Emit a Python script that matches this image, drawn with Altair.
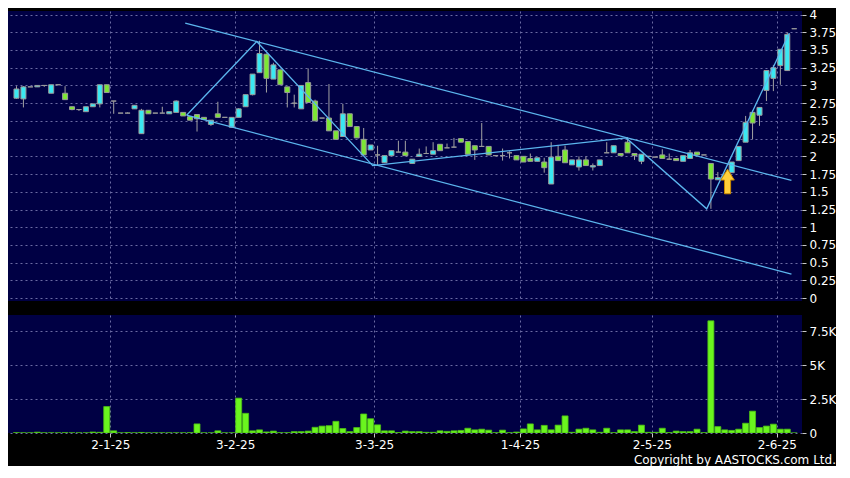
import altair as alt
import pandas as pd

# ---- candle data (one slot per trading day with trades) ----
opens = [2.82, 2.81, 2.98, 2.98, 3.00, 2.89, 3.01, 2.89, 2.70, 2.66,
         2.63, 2.70, 2.74, 3.01, 2.78, 2.61, 2.61, 2.67, 2.32, 2.65,
         2.61, 2.61, 2.60, 2.62, 2.62, 2.56, 2.59, 2.55, 2.45, 2.60,
         2.55, 2.41, 2.55, 2.70, 2.87, 3.18, 3.44, 3.09, 3.22, 2.98,
         2.75, 2.67, 3.04, 2.78, 2.54, 2.54, 2.36, 2.28, 2.60, 2.42,
         2.24, 2.09, 2.02, 1.91, 2.01, 2.06, 2.06, 1.90, 2.00, 2.04,
         2.03, 2.17, 2.12, 2.13, 2.25, 2.21, 2.15, 2.14, 2.14, 2.01,
         2.01, 2.05, 2.01, 2.00, 1.97, 1.93, 1.92, 1.61, 2.00, 2.09,
         1.88, 1.85, 1.95, 1.85, 1.87, 2.05, 2.05, 2.04, 2.20, 2.04,
         1.93, 2.00, 1.99, 2.02, 1.96, 1.97, 1.93, 1.97, 2.06, 2.02,
         1.90, 1.67, 1.70, 1.77, 1.94, 2.20, 2.62, 2.58, 2.93, 3.10,
         3.28, 3.21, 3.80]
highs = [2.99, 2.99, 2.98, 3.00, 3.00, 3.01, 3.01, 2.99, 2.70, 2.66,
         2.70, 2.74, 3.01, 3.01, 2.78, 2.61, 2.62, 2.72, 2.67, 2.65,
         2.61, 2.70, 2.63, 2.79, 2.62, 2.56, 2.59, 2.55, 2.51, 2.77,
         2.55, 2.55, 2.68, 2.87, 3.16, 3.63, 3.45, 3.32, 3.22, 2.98,
         2.87, 3.00, 3.24, 2.80, 2.54, 3.02, 2.36, 2.74, 2.60, 2.42,
         2.40, 2.16, 2.15, 2.01, 2.08, 2.22, 2.22, 1.96, 2.11, 2.14,
         2.20, 2.17, 2.18, 2.26, 2.25, 2.21, 2.15, 2.47, 2.14, 2.01,
         2.11, 2.07, 2.01, 2.00, 2.04, 1.98, 1.98, 2.20, 2.15, 2.15,
         1.95, 2.00, 2.00, 1.90, 1.95, 2.20, 2.15, 2.04, 2.27, 2.04,
         2.03, 2.00, 1.99, 2.10, 2.04, 1.97, 2.01, 2.09, 2.06, 2.02,
         1.90, 1.78, 1.76, 1.92, 2.14, 2.57, 2.65, 2.69, 3.21, 3.29,
         3.51, 3.75, 3.80]
lows = [2.81, 2.69, 2.98, 2.98, 2.98, 2.89, 3.01, 2.80, 2.65, 2.64,
        2.63, 2.70, 2.69, 2.90, 2.60, 2.61, 2.61, 2.67, 2.32, 2.60,
        2.61, 2.61, 2.60, 2.62, 2.57, 2.51, 2.35, 2.52, 2.43, 2.55,
        2.55, 2.41, 2.55, 2.70, 2.86, 3.18, 2.90, 3.09, 3.01, 2.69,
        2.69, 2.67, 2.76, 2.50, 2.54, 2.36, 2.24, 2.28, 2.42, 2.26,
        2.02, 2.09, 1.87, 1.91, 2.01, 2.06, 2.01, 1.90, 2.00, 2.04,
        2.03, 2.08, 2.12, 2.13, 2.20, 2.03, 1.95, 2.14, 2.02, 2.01,
        1.94, 1.97, 1.95, 1.92, 1.93, 1.93, 1.77, 1.61, 1.94, 1.91,
        1.88, 1.80, 1.87, 1.80, 1.87, 2.05, 2.05, 2.01, 2.05, 1.95,
        1.89, 2.00, 1.99, 1.97, 1.96, 1.94, 1.93, 1.97, 2.00, 2.02,
        1.26, 1.67, 1.68, 1.77, 1.94, 2.20, 2.24, 2.43, 2.78, 2.92,
        3.01, 3.21, 3.80]
closes = [2.95, 2.98, 2.98, 3.00, 3.00, 3.01, 3.01, 2.80, 2.66, 2.66,
          2.70, 2.74, 3.01, 2.90, 2.78, 2.61, 2.61, 2.72, 2.65, 2.60,
          2.61, 2.61, 2.63, 2.78, 2.57, 2.51, 2.53, 2.52, 2.51, 2.55,
          2.55, 2.55, 2.67, 2.87, 3.16, 3.45, 3.10, 3.29, 3.01, 2.90,
          2.75, 3.00, 2.76, 2.50, 2.54, 2.36, 2.24, 2.60, 2.42, 2.26,
          2.02, 2.16, 2.02, 2.01, 2.08, 2.06, 2.01, 1.96, 2.03, 2.04,
          2.08, 2.08, 2.12, 2.13, 2.20, 2.03, 2.09, 2.14, 2.02, 2.01,
          2.01, 2.05, 1.95, 1.92, 1.93, 1.98, 1.84, 1.99, 1.94, 1.91,
          1.95, 1.95, 1.87, 1.87, 1.95, 2.05, 2.15, 2.01, 2.05, 2.01,
          2.03, 2.00, 1.99, 1.97, 1.96, 1.94, 2.01, 2.05, 2.02, 2.02,
          1.68, 1.70, 1.74, 1.92, 2.14, 2.48, 2.47, 2.69, 3.21, 3.25,
          3.51, 3.72, 3.80]
volumes = [20, 10, 10, 60, 10, 10, 10, 20, 10, 10,
           10, 70, 50, 1950, 160, 10, 30, 10, 40, 10,
           10, 10, 10, 10, 10, 20, 670, 10, 10, 160,
           10, 10, 2570, 1450, 160, 230, 80, 140, 20, 20,
           100, 100, 140, 420, 510, 540, 860, 330, 100, 400,
           1400, 1050, 600, 160, 160, 30, 140, 100, 100, 50,
           50, 160, 120, 160, 190, 350, 230, 280, 210, 20,
           210, 20, 70, 300, 670, 230, 560, 230, 580, 1260,
           50, 280, 350, 230, 50, 350, 20, 230, 230, 100,
           580, 50, 50, 350, 30, 140, 100, 100, 280, 20,
           8270, 470, 230, 190, 280, 720, 1610, 400, 510, 650,
           280, 280, 0]
slots = list(range(len(opens)))

# ---- date axis ----
date_slots = [13.5, 31.5, 51.5, 72.5, 91.5, 109.5]
date_labels = ["2-1-25", "3-2-25", "3-3-25", "1-4-25", "2-5-25", "2-6-25"]

# ---- drawn trend lines ----
upper_slots = [24.3, 111.6]
upper_prices = [3.88, 1.66]
lower_slots = [24.5, 111.6]
lower_prices = [2.58, 0.34]
zig_slots = [24.5, 34.6, 51.3, 87.8, 99.4, 111.3]
zig_prices = [2.58, 3.62, 1.87, 2.26, 1.26, 3.74]

# ---- signal arrow ----
arrow_slots = [102.4]
arrow_prices = [1.645]

price_ticks = [i * 0.25 for i in range(17)]
vol_ticks = [0, 2500, 5000, 7500]

candles = pd.DataFrame({"slot": slots, "open": opens, "high": highs,
                        "low": lows, "close": closes, "volume": volumes})
candles["dir"] = ["up" if c > o else ("down" if c < o else "flat")
                  for o, c in zip(opens, closes)]

lines_rows = []
for name, xs, ys in [("upper", upper_slots, upper_prices),
                     ("lower", lower_slots, lower_prices),
                     ("zig", zig_slots, zig_prices)]:
    for k, (xv, yv) in enumerate(zip(xs, ys)):
        lines_rows.append({"line": name, "k": k, "slot": xv, "price": yv})
lines_df = pd.DataFrame(lines_rows)
arrow_df = pd.DataFrame({"slot": arrow_slots, "price": arrow_prices})

FONT = "DejaVu Sans"
GRID = "#6b6ba3"
W = 794

xscale = alt.Scale(domain=[-0.5, 112.4], nice=False, zero=False)
pscale = alt.Scale(domain=[-0.04, 4.05], nice=False, zero=False)
vscale = alt.Scale(domain=[0, 8700], nice=False, zero=False)

x_expr = " : ".join(
    f"datum.value == {s} ? '{l}'" for s, l in zip(date_slots, date_labels)
) + " : ''"

x_top_axis = alt.Axis(values=date_slots, labels=False, ticks=False, domain=False,
                      grid=True, gridColor=GRID, gridDash=[2, 3], gridWidth=1,
                      title=None)
y_price_axis = alt.Axis(orient="right", values=price_ticks, format=".2~f",
                        title=None, domain=False, grid=True, gridColor=GRID,
                        gridDash=[2, 3], gridWidth=1, tickColor="#c8c8c8",
                        tickSize=4, labelColor="white", labelFont=FONT,
                        labelFontSize=12, labelPadding=3)

X = alt.X("slot:Q", scale=xscale, axis=x_top_axis)

wicks = alt.Chart(candles).mark_rule(color="#a3a3a3", strokeWidth=1, clip=True).encode(
    x=X,
    y=alt.Y("low:Q", scale=pscale, axis=y_price_axis),
    y2="high:Q",
)
bodies = alt.Chart(candles).mark_bar(size=5, stroke="#9a9a9a", strokeWidth=1,
                                     orient="vertical", clip=True).encode(
    x=X,
    y=alt.Y("open:Q", scale=pscale, axis=y_price_axis),
    y2="close:Q",
    color=alt.Color("dir:N", scale=alt.Scale(domain=["up", "down", "flat"],
                                             range=["#3ae8f2", "#7ce634", "#9a9a9a"]),
                    legend=None),
)
trend = alt.Chart(lines_df).mark_line(color="#5cb6ee", strokeWidth=1.3, clip=True).encode(
    x=X,
    y=alt.Y("price:Q", scale=pscale, axis=y_price_axis),
    detail="line:N",
    order="k:Q",
)
arrow_shape = ("M0,-1 L0.55,-0.12 L0.25,-0.12 L0.25,1 L-0.25,1 "
               "L-0.25,-0.12 L-0.55,-0.12 Z")
arrow = alt.Chart(arrow_df).mark_point(shape=arrow_shape, size=600, filled=True,
                                       fill="#ffcf3a", stroke="#c98a00",
                                       strokeWidth=1, opacity=1).encode(
    x=X,
    y=alt.Y("price:Q", scale=pscale, axis=y_price_axis),
)

price_chart = alt.layer(wicks, bodies, trend, arrow).properties(width=W, height=290)

x_bottom_axis = alt.Axis(values=date_slots, labelExpr=x_expr, grid=True,
                         gridColor=GRID, gridDash=[2, 3], gridWidth=1,
                         domain=False, tickColor="#c8c8c8", tickSize=4,
                         labelColor="white", labelFont=FONT, labelFontSize=12,
                         labelPadding=2, title=None)
vol_axis = alt.Axis(orient="right", values=vol_ticks,
                    labelExpr="datum.value == 0 ? '0' : format(datum.value / 1000, '~g') + 'K'",
                    title=None, domain=False, grid=True, gridColor=GRID,
                    gridDash=[2, 3], gridWidth=1, tickColor="#c8c8c8", tickSize=4,
                    labelColor="white", labelFont=FONT, labelFontSize=12,
                    labelPadding=3)

vol_chart = alt.Chart(candles).mark_bar(size=6, color="#6af51e", stroke="#4cbf14",
                                        strokeWidth=0.8, orient="vertical",
                                        clip=True).encode(
    x=alt.X("slot:Q", scale=xscale, axis=x_bottom_axis),
    y=alt.Y("volume:Q", scale=vscale, axis=vol_axis),
).properties(
    width=W, height=118,
    title=alt.TitleParams("Copyright by AASTOCKS.com Ltd.", orient="bottom",
                          anchor="end", color="white", font=FONT, fontSize=12,
                          fontWeight="normal", offset=5, baseline="top"),
)

chart = alt.vconcat(price_chart, vol_chart, spacing=10).properties(
    padding=0, background="black"
).configure_view(fill="#000044", stroke=None)

chart.save("out.html", embed_options={"renderer": "svg", "actions": False})
